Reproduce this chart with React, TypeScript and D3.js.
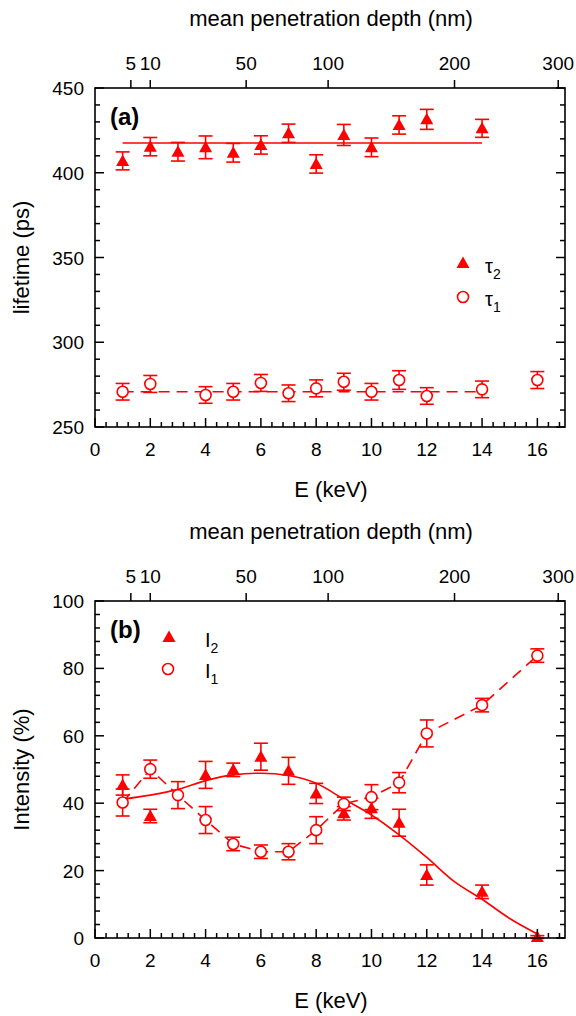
import React from "react";
import * as d3 from "d3";

// ---------- data ----------
const E_TAU2 = [1, 2, 3, 4, 5, 6, 7, 8, 9, 10, 11, 12, 14];
const TAU2 = [407, 415.4, 412.4, 415, 411.8, 416.4, 423.3, 405.2, 422.3, 415, 428.2, 431.5, 426.2];
const TAU2_ERR = [5.3, 5.4, 5.5, 6.7, 5.5, 5.4, 5.4, 5.4, 6.2, 5.5, 5.4, 5.9, 5.3];
const E_TAU1 = [1, 2, 4, 5, 6, 7, 8, 9, 10, 11, 12, 14, 16];
const TAU1 = [270.8, 275.4, 268.9, 270.8, 276, 269.9, 272.8, 276.7, 270.8, 277.7, 268.3, 272.2, 277.7];
const TAU1_ERR = [4.9, 5, 4.9, 4.9, 5, 4.9, 5, 5, 4.9, 5.5, 4.9, 4.9, 5];
const TAU_FIT_E = [1, 14];
const TAU2_FIT = 417.6;
const TAU1_FIT = 270.8;

const E_I2 = [1, 2, 4, 5, 6, 7, 8, 9, 10, 11, 12, 14, 16];
const I2 = [45.4, 36.2, 48.4, 49.9, 53.8, 49.6, 42.9, 37.0, 38.5, 34.2, 18.7, 13.7, 0.3];
const I2_ERR = [3, 2, 4, 2, 4, 4, 3, 2, 3, 4, 3, 2, 0.4];
const E_I1 = [1, 2, 3, 4, 5, 6, 7, 8, 9, 10, 11, 12, 14, 16];
const I1 = [40.2, 50.1, 42.4, 35.0, 27.9, 25.6, 25.6, 32.0, 39.8, 41.8, 46.1, 60.7, 69.1, 83.8];
const I1_ERR = [4, 2.7, 4, 4, 2, 2, 2.4, 4, 2, 3.7, 3, 4, 2, 2];
const FIT_E = [1, 2, 3, 4, 5, 6, 7, 8, 9, 10, 11, 12, 13, 14, 15, 16];
const FIT_I2 = [41.2, 42.4, 44.1, 46.7, 48.4, 48.9, 48.2, 45.9, 41.2, 36.5, 30.6, 23.9, 16.7, 11.5, 5.8, 1.2];

const X_TICKS = [0, 2, 4, 6, 8, 10, 12, 14, 16];
const DEPTH_TICKS = [5, 10, 50, 100, 200, 300];
const TAU_TICKS = [250, 300, 350, 400, 450];
const INT_TICKS = [0, 20, 40, 60, 80, 100];
const DEPTH_COEF = 3.3; // depth = coef * E^1.6

const RED = "#ff0000";
const FONT = "'Liberation Sans', Arial, sans-serif";

const X0 = 95, X1 = 565;

function depthToE(d: number) {
  return Math.pow(d / DEPTH_COEF, 1 / 1.6);
}

function Tri({ x, y }: { x: number; y: number }) {
  const s = 6.5;
  return <path d={`M${x},${y - s}L${x + s},${y + 5}L${x - s},${y + 5}Z`} fill={RED} />;
}

function Panel({ yTop, yBot, yDomain, yTicks, yMinor, xMinor, label, yLabel, children }: any) {
  const x = d3.scaleLinear().domain([0, 17]).range([X0, X1]);
  const y = d3.scaleLinear().domain(yDomain).range([yBot, yTop]);
  const minorX = d3.range(0, 17.0001, xMinor);
  const minorY = d3.range(yDomain[0], yDomain[1] + 0.0001, yMinor);
  return (
    <g>
      {children(x, y)}
      {/* frame */}
      <rect x={X0} y={yTop} width={X1 - X0} height={yBot - yTop} fill="none" stroke="#000" strokeWidth={1.6} />
      {/* bottom ticks */}
      {minorX.map((v, i) => {
        const major = Math.abs(v / 2 - Math.round(v / 2)) < 1e-6;
        return <line key={"bx" + i} x1={x(v)} x2={x(v)} y1={yBot} y2={yBot - (major ? 9 : 5)} stroke="#000" strokeWidth={1.5} />;
      })}
      {X_TICKS.map((v) => (
        <text key={"bxl" + v} x={x(v)} y={yBot + 29} textAnchor="middle" fontSize={19} fontFamily={FONT}>{v}</text>
      ))}
      {/* left/right ticks */}
      {minorY.map((v, i) => {
        const major = yTicks.some((t: number) => Math.abs(t - v) < 1e-6);
        const len = major ? 9 : 5;
        return (
          <g key={"yt" + i}>
            <line x1={X0} x2={X0 + len} y1={y(v)} y2={y(v)} stroke="#000" strokeWidth={1.5} />
            <line x1={X1} x2={X1 - len} y1={y(v)} y2={y(v)} stroke="#000" strokeWidth={1.5} />
          </g>
        );
      })}
      {yTicks.map((v: number) => (
        <text key={"yl" + v} x={84} y={y(v) + 7} textAnchor="end" fontSize={19} fontFamily={FONT}>{v}</text>
      ))}
      {/* top depth axis */}
      {DEPTH_TICKS.map((d) => (
        <g key={"dt" + d}>
          <line x1={x(depthToE(d))} x2={x(depthToE(d))} y1={yTop} y2={yTop - 8} stroke="#000" strokeWidth={1.5} />
          <text x={x(depthToE(d))} y={yTop - 18} textAnchor="middle" fontSize={19} fontFamily={FONT}>{d}</text>
        </g>
      ))}
      <text x={(X0 + X1) / 2 + 1} y={yTop - 62} textAnchor="middle" fontSize={22} fontFamily={FONT}>mean penetration depth (nm)</text>
      <text x={(X0 + X1) / 2 + 1} y={yBot + 70} textAnchor="middle" fontSize={22} fontFamily={FONT}>E (keV)</text>
      <text transform={`translate(29,${(yTop + yBot) / 2}) rotate(-90)`} textAnchor="middle" fontSize={22} fontFamily={FONT}>{yLabel}</text>
      <text x={110} y={yTop + 37} fontSize={24} fontWeight="bold" fontFamily={FONT}>{label}</text>
    </g>
  );
}

function ErrBar({ x, y, v, e }: any) {
  const cx = x, y1 = y(v - e), y2 = y(v + e);
  return (
    <g stroke={RED} strokeWidth={1.6}>
      <line x1={cx} x2={cx} y1={y1} y2={y2} />
      <line x1={cx - 7} x2={cx + 7} y1={y1} y2={y1} />
      <line x1={cx - 7} x2={cx + 7} y1={y2} y2={y2} />
    </g>
  );
}

export default function App() {
  return (
    <svg width={576} height={1016} style={{ position: "absolute", left: 0, top: 0, background: "#fff" }}>
      <rect width={576} height={1016} fill="#fff" />
      <Panel yTop={88} yBot={427} yDomain={[250, 450]} yTicks={TAU_TICKS} yMinor={10} xMinor={0.4} label="(a)" yLabel="lifetime (ps)">
        {(x: any, y: any) => (
          <g>
            <line x1={x(TAU_FIT_E[0])} x2={x(TAU_FIT_E[1])} y1={y(TAU2_FIT)} y2={y(TAU2_FIT)} stroke={RED} strokeWidth={1.5} />
            <line x1={x(TAU_FIT_E[0])} x2={x(TAU_FIT_E[1])} y1={y(TAU1_FIT)} y2={y(TAU1_FIT)} stroke={RED} strokeWidth={1.5} strokeDasharray="11,7" />
            {E_TAU2.map((e, i) => <ErrBar key={"e2" + i} x={x(e)} y={y} v={TAU2[i]} e={TAU2_ERR[i]} />)}
            {E_TAU1.map((e, i) => <ErrBar key={"e1" + i} x={x(e)} y={y} v={TAU1[i]} e={TAU1_ERR[i]} />)}
            {E_TAU2.map((e, i) => <Tri key={"t2" + i} x={x(e)} y={y(TAU2[i])} />)}
            {E_TAU1.map((e, i) => <circle key={"c1" + i} cx={x(e)} cy={y(TAU1[i])} r={5.5} fill="#fff" stroke={RED} strokeWidth={1.6} />)}
            {/* legend */}
            <Tri x={463} y={263} />
            <text x={485} y={273} fontSize={20} fontFamily={FONT}>τ<tspan fontSize={14} dy={6}>2</tspan></text>
            <circle cx={463} cy={297} r={5.5} fill="#fff" stroke={RED} strokeWidth={1.6} />
            <text x={485} y={306} fontSize={20} fontFamily={FONT}>τ<tspan fontSize={14} dy={6}>1</tspan></text>
          </g>
        )}
      </Panel>
      <Panel yTop={601} yBot={938} yDomain={[0, 100]} yTicks={INT_TICKS} yMinor={4} xMinor={0.4} label="(b)" yLabel="Intensity (%)">
        {(x: any, y: any) => {
          const fit = d3.line<number>().x((_, i) => x(FIT_E[i])).y((d) => y(d)).curve(d3.curveMonotoneX);
          const dash = d3.line<number>().x((_, i) => x(E_I1[i])).y((d) => y(d));
          return (
            <g>
              <path d={fit(FIT_I2) || ""} fill="none" stroke={RED} strokeWidth={1.6} />
              <path d={dash(I1) || ""} fill="none" stroke={RED} strokeWidth={1.6} strokeDasharray="11,7" />
              {E_I2.map((e, i) => <ErrBar key={"b2" + i} x={x(e)} y={y} v={I2[i]} e={I2_ERR[i]} />)}
              {E_I1.map((e, i) => <ErrBar key={"b1" + i} x={x(e)} y={y} v={I1[i]} e={I1_ERR[i]} />)}
              {E_I2.map((e, i) => <Tri key={"bt" + i} x={x(e)} y={y(I2[i])} />)}
              {E_I1.map((e, i) => <circle key={"bc" + i} cx={x(e)} cy={y(I1[i])} r={5.5} fill="#fff" stroke={RED} strokeWidth={1.6} />)}
              <Tri x={169} y={637} />
              <text x={205} y={647} fontSize={20} fontFamily={FONT}>I<tspan fontSize={14} dy={6}>2</tspan></text>
              <circle cx={168} cy={669} r={5.5} fill="#fff" stroke={RED} strokeWidth={1.6} />
              <text x={205} y={678} fontSize={20} fontFamily={FONT}>I<tspan fontSize={14} dy={6}>1</tspan></text>
            </g>
          );
        }}
      </Panel>
    </svg>
  );
}
